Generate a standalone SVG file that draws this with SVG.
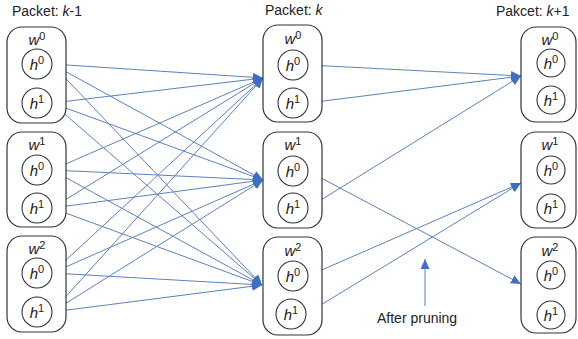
<svg xmlns="http://www.w3.org/2000/svg" width="578" height="339" viewBox="0 0 578 339">
<defs>
<marker id="ah" markerUnits="userSpaceOnUse" markerWidth="11" markerHeight="9" refX="10" refY="4.5" orient="auto">
<path d="M0,0 L10,4.5 L0,9 Z" fill="#3f6fc4"/>
</marker>
<style>
.box{fill:#fff;stroke:#333;stroke-width:1.2}
.cir{fill:#fff;stroke:#333;stroke-width:1.1}
.t{font-family:"Liberation Sans",Arial,sans-serif;font-size:14px;fill:#222}
.v{font-family:"Liberation Sans",Arial,sans-serif;font-size:15px;font-style:italic;fill:#222}
.s{font-size:11px;font-style:normal}
.ln{fill:none;stroke:#5b82bd;stroke-width:1;marker-end:url(#ah)}
</style>
</defs>
<rect width="578" height="339" fill="#fff"/>
<text class="t" x="12" y="16">Packet: <tspan font-style="italic">k</tspan>-1</text>
<text class="t" x="265" y="15">Packet: <tspan font-style="italic">k</tspan></text>
<text class="t" x="496" y="16">Pakcet: <tspan font-style="italic">k</tspan>+1</text>

<g id="connectors">
<path class="ln" d="M52,64 L263,78"/>
<path class="ln" d="M52,64 L263,180"/>
<path class="ln" d="M52,64 L262,285"/>
<path class="ln" d="M52,103 L263,78"/>
<path class="ln" d="M52,103 L263,180"/>
<path class="ln" d="M52,103 L262,285"/>
<path class="ln" d="M52,170 L263,78"/>
<path class="ln" d="M52,170 L263,180"/>
<path class="ln" d="M52,170 L262,285"/>
<path class="ln" d="M52,208 L263,78"/>
<path class="ln" d="M52,208 L263,180"/>
<path class="ln" d="M52,208 L262,285"/>
<path class="ln" d="M52,273 L263,78"/>
<path class="ln" d="M52,273 L263,180"/>
<path class="ln" d="M52,273 L262,285"/>
<path class="ln" d="M52,312 L263,78"/>
<path class="ln" d="M52,312 L263,180"/>
<path class="ln" d="M52,312 L262,285"/>
<path class="ln" d="M308,65 L521,76"/>
<path class="ln" d="M308,103 L521,76"/>
<path class="ln" d="M308,171 L521,284"/>
<path class="ln" d="M308,208 L521,76"/>
<path class="ln" d="M308,276 L521,183"/>
<path class="ln" d="M306,314 L521,183"/>
<path class="ln" d="M425,306 L425,259"/>
</g>
<text class="t" x="377" y="323">After pruning</text>

<g id="L0"><rect class="box" x="7" y="27" width="59" height="96" rx="15"/>
<text class="v" x="37" y="45" text-anchor="middle">w<tspan class="s" dy="-5">0</tspan></text>
<circle class="cir" cx="37" cy="64" r="15"/><text class="v" x="37" y="70" text-anchor="middle">h<tspan class="s" dy="-6">0</tspan></text>
<circle class="cir" cx="37" cy="103" r="15"/><text class="v" x="37" y="109" text-anchor="middle">h<tspan class="s" dy="-6">1</tspan></text></g>
<g id="L1"><rect class="box" x="7" y="132" width="59" height="95" rx="15"/>
<text class="v" x="37" y="150" text-anchor="middle">w<tspan class="s" dy="-5">1</tspan></text>
<circle class="cir" cx="37" cy="170" r="15"/><text class="v" x="37" y="176" text-anchor="middle">h<tspan class="s" dy="-6">0</tspan></text>
<circle class="cir" cx="37" cy="208" r="15"/><text class="v" x="37" y="214" text-anchor="middle">h<tspan class="s" dy="-6">1</tspan></text></g>
<g id="L2"><rect class="box" x="7" y="236" width="59" height="96" rx="15"/>
<text class="v" x="37" y="254" text-anchor="middle">w<tspan class="s" dy="-5">2</tspan></text>
<circle class="cir" cx="37" cy="273" r="15"/><text class="v" x="37" y="279" text-anchor="middle">h<tspan class="s" dy="-6">0</tspan></text>
<circle class="cir" cx="37" cy="312" r="15"/><text class="v" x="37" y="318" text-anchor="middle">h<tspan class="s" dy="-6">1</tspan></text></g>

<g id="M0"><rect class="box" x="263" y="25" width="59" height="97" rx="15"/>
<text class="v" x="293" y="44" text-anchor="middle">w<tspan class="s" dy="-5">0</tspan></text>
<circle class="cir" cx="293" cy="65" r="15"/><text class="v" x="293" y="71" text-anchor="middle">h<tspan class="s" dy="-6">0</tspan></text>
<circle class="cir" cx="293" cy="103" r="15"/><text class="v" x="293" y="109" text-anchor="middle">h<tspan class="s" dy="-6">1</tspan></text></g>
<g id="M1"><rect class="box" x="263" y="132" width="59" height="96" rx="15"/>
<text class="v" x="293" y="150" text-anchor="middle">w<tspan class="s" dy="-5">1</tspan></text>
<circle class="cir" cx="293" cy="171" r="15"/><text class="v" x="293" y="177" text-anchor="middle">h<tspan class="s" dy="-6">0</tspan></text>
<circle class="cir" cx="293" cy="208" r="15"/><text class="v" x="293" y="214" text-anchor="middle">h<tspan class="s" dy="-6">1</tspan></text></g>
<g id="M2"><rect class="box" x="263" y="237" width="59" height="98" rx="15"/>
<text class="v" x="293" y="256" text-anchor="middle">w<tspan class="s" dy="-5">2</tspan></text>
<circle class="cir" cx="293" cy="276" r="15"/><text class="v" x="293" y="282" text-anchor="middle">h<tspan class="s" dy="-6">0</tspan></text>
<circle class="cir" cx="291" cy="314" r="15"/><text class="v" x="291" y="320" text-anchor="middle">h<tspan class="s" dy="-6">1</tspan></text></g>

<g id="R0"><rect class="box" x="521" y="27" width="55" height="95" rx="15"/>
<text class="v" x="550" y="45" text-anchor="middle">w<tspan class="s" dy="-5">0</tspan></text>
<circle class="cir" cx="551" cy="63" r="14"/><text class="v" x="551" y="69" text-anchor="middle">h<tspan class="s" dy="-6">0</tspan></text>
<circle class="cir" cx="551" cy="100" r="14"/><text class="v" x="551" y="106" text-anchor="middle">h<tspan class="s" dy="-6">1</tspan></text></g>
<g id="R1"><rect class="box" x="521" y="132" width="55" height="96" rx="15"/>
<text class="v" x="550" y="150" text-anchor="middle">w<tspan class="s" dy="-5">1</tspan></text>
<circle class="cir" cx="551" cy="170" r="14"/><text class="v" x="551" y="176" text-anchor="middle">h<tspan class="s" dy="-6">0</tspan></text>
<circle class="cir" cx="551" cy="208" r="14"/><text class="v" x="551" y="214" text-anchor="middle">h<tspan class="s" dy="-6">1</tspan></text></g>
<g id="R2"><rect class="box" x="521" y="237" width="55" height="96" rx="15"/>
<text class="v" x="550" y="256" text-anchor="middle">w<tspan class="s" dy="-5">2</tspan></text>
<circle class="cir" cx="551" cy="275" r="14"/><text class="v" x="551" y="281" text-anchor="middle">h<tspan class="s" dy="-6">0</tspan></text>
<circle class="cir" cx="551" cy="315" r="14"/><text class="v" x="551" y="321" text-anchor="middle">h<tspan class="s" dy="-6">1</tspan></text></g>
</svg>
